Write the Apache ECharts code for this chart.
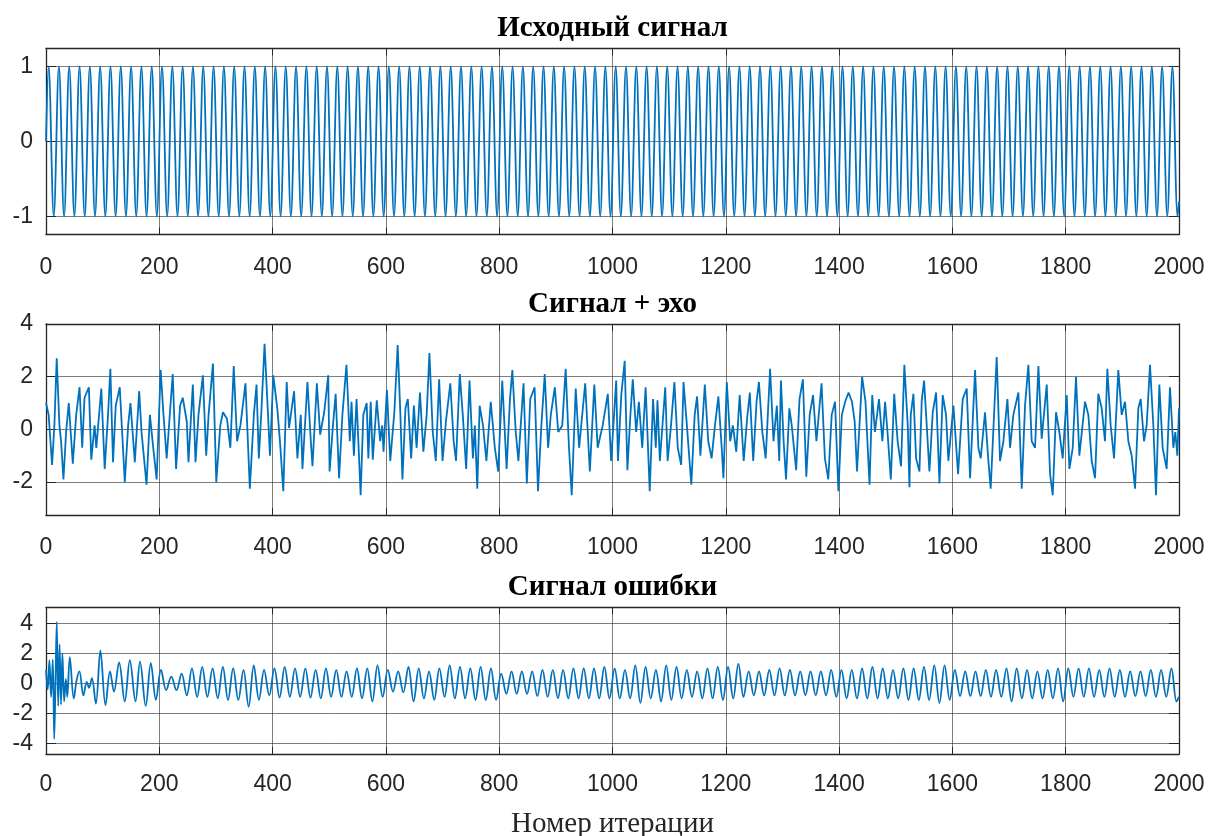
<!DOCTYPE html>
<html>
<head>
<meta charset="utf-8">
<script src="https://cdn.jsdelivr.net/npm/echarts@6/dist/echarts.min.js"></script>
<style>
html, body { margin: 0; padding: 0; background: #ffffff; }
#chart { width: 1213px; height: 836px; }
</style>
</head>
<body>
<div id="chart"></div>
<script>
// Panel titles and axis caption
const panelTitles = ['Исходный сигнал', 'Сигнал + эхо', 'Сигнал ошибки'];
const xAxisCaption = 'Номер итерации';

// Tick values
const xTickStep = 200;
const xRange = [0, 2000];
const sourceTicks = [-1, 0, 1];
const echoTicks = [-2, 0, 2, 4];
const errorTicks = [-4, -2, 0, 2, 4];

// Vertical limits of each panel
const sourceRange = [-1.24, 1.24];
const echoRange = [-3.25, 4];
const errorRange = [-4.7, 5.07];

// Source sinusoid: crests and troughs [iteration, value]
const sourceSignal = [
  [0,0],[4.6,1],[13.7,-1],[22.8,1],[31.9,-1],[41,1],[50.1,-1],[59.2,1],[68.3,-1],[77.4,1],[86.5,-1],
  [95.6,1],[104.7,-1],[113.8,1],[122.9,-1],[132,1],[141.1,-1],[150.2,1],[159.3,-1],[168.4,1],[177.5,-1],
  [186.6,1],[195.7,-1],[204.8,1],[213.9,-1],[223,1],[232.1,-1],[241.2,1],[250.3,-1],[259.4,1],[268.5,-1],
  [277.6,1],[286.7,-1],[295.8,1],[304.9,-1],[314,1],[323.1,-1],[332.2,1],[341.3,-1],[350.4,1],[359.5,-1],
  [368.6,1],[377.7,-1],[386.8,1],[395.9,-1],[405,1],[414.1,-1],[423.2,1],[432.3,-1],[441.4,1],[450.5,-1],
  [459.6,1],[468.7,-1],[477.8,1],[486.9,-1],[496,1],[505.1,-1],[514.2,1],[523.3,-1],[532.4,1],[541.5,-1],
  [550.6,1],[559.7,-1],[568.8,1],[577.9,-1],[587,1],[596.1,-1],[605.2,1],[614.3,-1],[623.4,1],[632.5,-1],
  [641.6,1],[650.7,-1],[659.8,1],[668.9,-1],[678,1],[687.1,-1],[696.2,1],[705.3,-1],[714.4,1],[723.5,-1],
  [732.6,1],[741.7,-1],[750.8,1],[759.9,-1],[769,1],[778.1,-1],[787.2,1],[796.3,-1],[805.4,1],[814.5,-1],
  [823.6,1],[832.7,-1],[841.8,1],[850.9,-1],[860,1],[869.1,-1],[878.2,1],[887.3,-1],[896.4,1],[905.5,-1],
  [914.6,1],[923.7,-1],[932.8,1],[941.9,-1],[951,1],[960.1,-1],[969.2,1],[978.3,-1],[987.4,1],[996.5,-1],
  [1005.6,1],[1014.7,-1],[1023.8,1],[1032.9,-1],[1042,1],[1051.1,-1],[1060.2,1],[1069.3,-1],[1078.4,1],[1087.5,-1],
  [1096.6,1],[1105.7,-1],[1114.8,1],[1123.9,-1],[1133,1],[1142.1,-1],[1151.2,1],[1160.3,-1],[1169.4,1],[1178.5,-1],
  [1187.6,1],[1196.7,-1],[1205.8,1],[1214.9,-1],[1224,1],[1233.1,-1],[1242.2,1],[1251.3,-1],[1260.4,1],[1269.5,-1],
  [1278.6,1],[1287.7,-1],[1296.8,1],[1305.9,-1],[1315,1],[1324.1,-1],[1333.2,1],[1342.3,-1],[1351.4,1],[1360.5,-1],
  [1369.6,1],[1378.7,-1],[1387.8,1],[1396.9,-1],[1406,1],[1415.1,-1],[1424.2,1],[1433.3,-1],[1442.4,1],[1451.5,-1],
  [1460.6,1],[1469.7,-1],[1478.8,1],[1487.9,-1],[1497,1],[1506.1,-1],[1515.2,1],[1524.3,-1],[1533.4,1],[1542.5,-1],
  [1551.6,1],[1560.7,-1],[1569.8,1],[1578.9,-1],[1588,1],[1597.1,-1],[1606.2,1],[1615.3,-1],[1624.4,1],[1633.5,-1],
  [1642.6,1],[1651.7,-1],[1660.8,1],[1669.9,-1],[1679,1],[1688.1,-1],[1697.2,1],[1706.3,-1],[1715.4,1],[1724.5,-1],
  [1733.6,1],[1742.7,-1],[1751.8,1],[1760.9,-1],[1770,1],[1779.1,-1],[1788.2,1],[1797.3,-1],[1806.4,1],[1815.5,-1],
  [1824.6,1],[1833.7,-1],[1842.8,1],[1851.9,-1],[1861,1],[1870.1,-1],[1879.2,1],[1888.3,-1],[1897.4,1],[1906.5,-1],
  [1915.6,1],[1924.7,-1],[1933.8,1],[1942.9,-1],[1952,1],[1961.1,-1],[1970.2,1],[1979.3,-1],[1988.4,1],[1997.5,-1],
  [2000,-0.8]
];

// Signal with echo [iteration, value]
const echoSignal = [
  [0,1.0],[4.7,0.55],[10.7,-1.35],[14.8,0.15],[18.9,2.7],[23.7,0.15],[26.6,-0.45],[30.8,-1.9],[35.5,-0.1],[40.2,1.0],
  [47.3,-1.3],[53.3,0.55],[59.2,1.6],[63.9,-0.7],[68,1.2],[75.7,1.6],[79.9,-1.15],[85.8,0.15],[88.8,-0.7],[97.6,1.55],
  [103.6,-1.5],[109.5,0.55],[113.6,2.3],[118.3,-1.25],[123.1,0.9],[130.2,1.6],[139.1,-2.0],[145,0.15],[149.1,1.0],[156.8,-1.25],
  [164.5,1.45],[168.6,-0.1],[177.5,-2.1],[183.4,0.55],[189.3,-0.7],[195.3,-1.9],[202.4,2.25],[207.1,0.65],[213,-1.1],[223.7,2.1],
  [229.6,-1.5],[236.7,0.9],[241.4,1.2],[248.5,0.3],[251.5,-1.25],[259.2,1.7],[263.9,-1.25],[269.2,0.55],[276.9,2.05],[282.8,-1.0],
  [287,0.55],[294.7,2.5],[300.6,-2.0],[307.7,0.15],[312.4,0.65],[319.5,0.4],[325.4,-0.7],[331.4,2.4],[337.3,-0.45],[343.2,0.15],
  [352.1,1.75],[359.8,-2.25],[366.9,0.55],[371.6,1.7],[375.7,-1.1],[379.9,0.55],[385.8,3.25],[391.7,0.65],[395.3,-1.0],[401.2,2.05],
  [408.3,0.8],[413,-0.45],[418.9,-2.35],[424.9,1.8],[429,0.05],[437.9,1.45],[443.8,-1.1],[449.7,0.55],[452.7,-1.5],[461.5,1.8],
  [467.5,-0.45],[470.4,-1.4],[478.1,1.75],[484,-0.2],[491.1,0.65],[498.2,2.05],
  [500.6,-1.6],[506.5,0.15],[511.3,1.35],[517.3,-1.85],[523.2,0.55],[530.4,2.45],[536.3,-0.45],[539.3,1.05],[543.5,-1.0],[548.2,1.15],
  [555.4,-2.5],[560.1,0.55],[566.1,1.0],[569,-1.1],[573.2,1.05],[576.8,-1.15],[583.9,1.1],[589.9,-0.45],[593.5,0.15],[595.8,-0.85],
  [601.8,1.5],[607.7,-1.2],[614.9,0.65],[620.8,3.2],[625.6,0.55],[629.2,-1.9],[634.5,0.8],[638.7,1.15],[644.6,-1.1],[649.4,0.9],
  [654.2,-0.7],[660.1,1.4],[666.1,-0.85],[672,0.55],[676.8,2.9],[682.7,-0.1],[688.1,-1.2],[694,1.9],[700,-1.2],[706,0.3],
  [713.7,1.75],[719.6,-0.45],[723.8,-1.2],[730.4,2.1],[735.7,0.55],[741.7,-1.5],[747.6,1.85],[753.6,-1.1],[757,0.15],[761.3,-2.25],
  [765.5,0.9],[771.4,0.15],[777.4,-1.2],[785.1,1.05],[792.3,-0.7],[798.2,-1.6],[805.4,1.85],[813.1,-1.5],[819,1.15],[823.2,2.25],
  [829.2,-0.1],[833.9,-1.2],[842.9,1.75],[848.8,-2.05],[854.8,1.15],[862.5,1.6],[868.5,-2.35],[874.4,0.15],[880.4,2.1],[886.3,-0.7],
  [891.1,0.55],[898.2,1.6],[904.2,-0.1],[911.3,0.15],[917.3,2.3],[923.2,-0.7],[928,-2.5],[935.1,1.55],[941.1,-0.7],[951.8,1.75],
  [960,-1.6],[967.9,1.7],[973.8,-0.7],[982.7,0.15],[991.7,1.35],[997.6,-1.2],[1006.5,1.85],
  [1009.6,-1.2],[1015.5,1.3],[1021.5,2.6],[1026.3,-1.55],[1031.6,0.55],[1035.8,1.9],[1041.8,-0.1],[1046.6,1.05],[1052.5,-0.7],[1058.5,1.6],
  [1065.7,-2.35],[1071.6,1.15],[1076.4,-0.7],[1079.4,1.1],[1083.6,-1.2],[1093.1,1.6],[1097.3,-1.2],[1103.3,0.15],[1109.3,1.8],[1115.2,-0.7],
  [1121.2,-1.35],[1125.4,1.8],[1131.3,0.15],[1139.1,-2.1],[1145.1,0.55],[1149.3,1.25],[1155.2,-1.0],[1163,1.7],[1169,-0.45],[1174.9,-1.1],
  [1180.9,0.15],[1186.9,1.25],[1192.8,-0.7],[1195.8,-1.85],[1201.8,1.8],[1207.8,-0.45],[1212.5,0.15],[1218.5,-0.85],[1224.5,1.3],[1231.6,-1.2],
  [1237.6,0.4],[1242.4,1.4],[1248.4,-1.2],[1254.3,1.05],[1258.5,1.8],[1264.5,-0.1],[1270.4,-1.1],[1278.2,2.3],[1284.2,-0.45],[1290.1,0.9],
  [1294.3,-1.2],[1297.3,1.85],[1302.1,-0.45],[1306.3,-1.9],[1312.2,0.8],[1316.4,0.15],[1324.2,-1.55],[1330.1,1.15],[1336.1,1.9],[1342.1,-1.8],
  [1348.1,0.55],[1354,1.3],[1360,-0.45],[1369,1.75],[1374.9,-1.1],[1380.9,-1.9],[1386.9,0.55],[1392.8,1.05],[1398.8,-2.35],[1404.8,0.55],
  [1410.7,1.05],[1416.7,1.4],[1422.7,1.05],[1427.5,0.3],[1431.6,-1.6],[1440.6,2.0],[1446.6,1.05],[1453.7,-2.1],[1458.5,1.3],[1463.3,-0.1],
  [1470.4,1.15],[1476.4,-0.45],[1481.2,1.05],[1485.4,-0.1],[1491.3,-1.9],[1497.3,1.35],[1503.3,-0.45],[1509.3,-1.4],[1515.2,2.45],[1521.2,0.15],
  [1524.2,-2.2],
  [1526.5,0.55],[1531.2,1.35],[1535.9,-1.1],[1541.8,-1.6],[1545.9,1.1],[1550,1.85],[1554.7,0.15],[1559.4,-1.6],[1565.3,0.65],[1571.2,1.4],
  [1577.1,-2.05],[1582.9,1.3],[1588.8,0.55],[1592.9,-1.2],[1601.8,0.9],[1610,-1.7],[1618.2,1.15],[1625.3,1.55],[1631.2,-1.85],[1640,2.25],
  [1645.9,-0.7],[1650,-1.1],[1657.6,0.65],[1663.5,-1.2],[1667.6,-2.25],[1673.5,0.55],[1678.2,2.75],[1684.1,-1.2],[1690,-0.45],[1697.1,1.15],
  [1701.8,-0.7],[1707.6,0.55],[1716.5,1.4],[1722.4,-2.25],[1728.2,0.9],[1734.1,2.45],[1740,-0.45],[1745.9,-0.7],[1751.8,2.4],[1757.6,-0.35],
  [1766.5,1.7],[1772.4,-1.7],[1777.1,-2.5],[1782.9,0.65],[1788.8,-0.1],[1794.7,-1.1],[1801.8,1.3],[1806.5,-1.5],[1812.4,-0.7],[1818.2,2.0],
  [1824.1,-1.0],[1834.1,1.05],[1840,0.55],[1845.9,-1.2],[1851.8,-1.85],[1857.6,1.35],[1863.5,0.8],[1869.4,-0.45],[1873.5,2.3],[1879.4,0.15],
  [1885.3,-1.1],[1892.9,2.25],[1898.8,0.55],[1904.7,1.05],[1910.6,-0.45],[1916.5,-1.0],[1922.4,-2.25],[1928.2,0.8],[1932.4,1.15],[1938.2,-0.45],
  [1942.9,0.15],[1948.8,2.45],[1954.7,0.15],[1959.4,-2.5],[1965.3,1.7],[1971.2,-0.7],[1978.2,-1.5],[1984.1,1.6],[1990,-0.7],[1993.5,-0.1],
  [1997.1,-1.0],[2000,0.8]
];

// Error signal: start-up transient, then crests and troughs [iteration, value]
const errorSignal = [
  [0,0.9],[3,-0.4],[6,1.55],[9,-0.9],[12,1.6],[14.5,-3.7],[17,0.6],[19,4.1],[21.5,-1.5],[24,2.6],
  [26.5,-1.4],[29,2.0],[32,-1.2],[35,0.3],[37.5,-0.9],[42,1.75],[49,-1.0],[54,0.2],[59,0.8],[66,-0.8],
  [72,0.1],[76,-0.3],[81,0.35],[88,-1.35],[96,2.2],[105,-1.45],[113,0.8],[120,-0.55],[129,1.4],[139,-1.2],
  [148,1.55],[158,-1.2],[166,1.45],[176,-1.5],[185,1.35],[194,-1.1],
  [203,0.9],[212.1,-0.45],[221.2,0.45],[230.3,-0.45],[239.4,0.65],[248.5,-0.8],[257.6,1.0],[266.7,-0.9],[275.8,1.1],[284.9,-0.9],
  [294,1.0],[303.1,-1.0],[312.2,1.1],[321.3,-1.1],[330.4,1.0],[339.5,-1.1],[348.6,0.9],[357.7,-1.55],[366.8,1.2],[375.9,-1.1],
  [385,0.9],[394.1,-0.8],[403.2,1.0],[412.3,-0.95],[421.4,1.1],[430.5,-0.9],[439.6,1.0],[448.7,-0.9],[457.8,1.0],[466.9,-0.95],
  [476,0.9],[485.1,-1.0],[494.2,1.0],[503.3,-0.9],[512.4,0.9],[521.5,-0.9],[530.6,0.8],[539.7,-0.9],[548.8,1.0],[557.9,-1.0],
  [567,1.0],[576.1,-1.2],[585.2,1.2],[594.3,-0.9],[603.4,0.9],[612.5,-0.55],[621.6,0.8],[630.7,-0.6],[639.8,1.1],[648.9,-1.2],
  [658,1.0],[667.1,-1.0],[676.2,0.8],[685.3,-1.1],[694.4,1.0],[703.5,-0.9],[712.6,1.2],[721.7,-1.0],[730.8,1.1],[739.9,-1.0],
  [749,1.0],[758.1,-1.1],[767.2,1.1],[776.3,-1.1],[785.4,1.0],[794.5,-1.1],[803.6,0.65],[812.7,-0.7],[821.8,0.8],[830.9,-0.7],
  [840,0.8],[849.1,-0.7],[858.2,0.8],[867.3,-0.85],[876.4,0.9],[885.5,-0.9],[894.6,0.9],[903.7,-1.0],[912.8,0.9],[921.9,-1.0],
  [931,1.0],[940.1,-1.0],[949.2,1.0],[958.3,-1.0],[967.4,1.0],[976.5,-1.0],[985.6,1.1],[994.7,-1.0],[1003.8,1.0],[1012.9,-1.0],
  [1022,0.9],[1031.1,-1.0],[1040.2,1.2],[1049.3,-1.3],[1058.4,1.1],[1067.5,-1.0],[1076.6,0.9],[1085.7,-1.2],[1094.8,1.2],[1103.9,-1.1],
  [1113,1.1],[1122.1,-1.0],[1131.2,0.9],[1140.3,-0.9],[1149.4,0.8],[1158.5,-1.0],[1167.6,1.0],[1176.7,-1.0],[1185.8,1.1],[1194.9,-1.1],
  [1204,1.1],[1213.1,-1.0],[1222.2,1.3],[1231.3,-0.9],[1240.4,0.8],[1249.5,-0.8],[1258.6,0.8],[1267.7,-0.8],[1276.8,0.9],[1285.9,-0.8],
  [1295,1.0],[1304.1,-0.8],[1313.2,0.9],[1322.3,-0.8],[1331.4,0.8],[1340.5,-0.8],[1349.6,0.8],[1358.7,-0.8],[1367.8,0.8],[1376.9,-0.8],
  [1386,0.9],[1395.1,-0.9],[1404.2,0.9],[1413.3,-1.0],[1422.4,0.9],[1431.5,-1.0],[1440.6,1.0],[1449.7,-1.0],[1458.8,1.1],[1467.9,-1.0],
  [1477,1.0],[1486.1,-1.0],[1495.2,0.9],[1504.3,-1.0],[1513.4,1.0],[1522.5,-1.1],[1531.6,1.0],[1540.7,-1.1],[1549.8,1.1],[1558.9,-1.1],
  [1568,1.2],[1577.1,-1.3],[1586.2,1.2],[1595.3,-1.1],[1604.4,0.9],[1613.5,-0.85],[1622.6,0.8],[1631.7,-0.85],[1640.8,0.8],[1649.9,-0.85],
  [1659,0.9],[1668.1,-0.9],[1677.2,0.9],[1686.3,-0.9],[1695.4,1.0],[1704.5,-1.2],[1713.6,1.0],[1722.7,-1.0],[1731.8,0.9],[1740.9,-1.0],
  [1750,0.8],[1759.1,-1.0],[1768.2,0.9],[1777.3,-1.0],[1786.4,1.0],[1795.5,-1.2],[1804.6,1.0],[1813.7,-0.9],[1822.8,1.0],[1831.9,-0.9],
  [1841,1.0],[1850.1,-0.9],[1859.2,0.9],[1868.3,-0.9],[1877.4,1.0],[1886.5,-0.9],[1895.6,0.9],[1904.7,-0.9],[1913.8,0.8],[1922.9,-0.85],
  [1932,0.8],[1941.1,-0.85],[1950.2,0.9],[1959.3,-0.9],[1968.4,0.9],[1977.5,-0.9],[1986.6,1.0],[1995.7,-1.2],[2000,-0.9]
];

// ---- styling ----
const LINE_COLOR = '#0072BD';
const BOX_COLOR = '#262626';
const GRID_COLOR = 'rgba(38,38,38,0.6)';
const TICK_FONT = "'Liberation Sans', Arial, Helvetica, sans-serif";
const TITLE_FONT = "'Liberation Serif', 'Times New Roman', serif";
const TICK_SIZE = 23;
const TITLE_SIZE = 29;

const panels = [
  { top: 48.5, height: 186, range: sourceRange, ticks: sourceTicks, data: sourceSignal, smooth: 0.36, title: panelTitles[0], titleY: 29, labelMargin: 22 },
  { top: 324, height: 191, range: echoRange, ticks: echoTicks, data: echoSignal, smooth: false, title: panelTitles[1], titleY: 305, labelMargin: 21 },
  { top: 607.3, height: 146.7, range: errorRange, ticks: errorTicks, data: errorSignal, smooth: 0.36, title: panelTitles[2], titleY: 588, labelMargin: 19 }
];
const gridLeft = 46;
const gridWidth = 1133;

const grids = [], xAxes = [], yAxes = [], series = [], titles = [];

panels.forEach((p, i) => {
  grids.push({ left: gridLeft, top: p.top, width: gridWidth, height: p.height, outerBoundsMode: 'none', containLabel: false });

  const xBase = {
    type: 'value', gridIndex: i, min: xRange[0], max: xRange[1], interval: xTickStep,
    axisLine: { show: true, onZero: false, lineStyle: { color: BOX_COLOR, width: 1.3 } },
    axisTick: { show: true, inside: true, length: 7, lineStyle: { color: BOX_COLOR, width: 1 } }
  };
  xAxes.push(Object.assign({}, xBase, {
    position: 'bottom',
    axisLabel: { show: true, margin: p.labelMargin, color: BOX_COLOR, fontFamily: TICK_FONT, fontSize: TICK_SIZE, formatter: v => String(v) },
    splitLine: { show: true, lineStyle: { color: GRID_COLOR, width: 1 } }
  }));
  xAxes.push(Object.assign({}, xBase, {
    position: 'top',
    axisLabel: { show: false },
    splitLine: { show: false }
  }));

  const yBase = {
    type: 'value', gridIndex: i, min: p.range[0], max: p.range[1],
    axisLine: { show: true, onZero: false, lineStyle: { color: BOX_COLOR, width: 1.3 } },
    axisTick: { show: true, inside: true, length: 10, customValues: p.ticks, lineStyle: { color: BOX_COLOR, width: 1 } }
  };
  yAxes.push(Object.assign({}, yBase, {
    position: 'left',
    axisLabel: { show: true, margin: 13, color: BOX_COLOR, fontFamily: TICK_FONT, fontSize: TICK_SIZE, customValues: p.ticks, formatter: v => String(v) },
    splitLine: { show: true, lineStyle: { color: GRID_COLOR, width: 1 } }
  }));
  yAxes.push(Object.assign({}, yBase, {
    position: 'right',
    axisLabel: { show: false },
    splitLine: { show: false }
  }));

  series.push({
    type: 'line', xAxisIndex: 2 * i, yAxisIndex: 2 * i, data: p.data,
    showSymbol: false, symbol: 'none', smooth: p.smooth, silent: true,
    lineStyle: { color: LINE_COLOR, width: 1.8 }
  });

  titles.push({
    text: p.title, left: gridLeft + gridWidth / 2, top: p.titleY, padding: 0,
    textAlign: 'center', textVerticalAlign: 'middle',
    textStyle: { fontFamily: TITLE_FONT, fontWeight: 'bold', fontSize: TITLE_SIZE, color: '#000000' }
  });
});

titles.push({
  text: xAxisCaption, left: gridLeft + gridWidth / 2, top: 824, padding: 0,
  textAlign: 'center', textVerticalAlign: 'middle',
  textStyle: { fontFamily: TITLE_FONT, fontWeight: 'normal', fontSize: 29, color: BOX_COLOR }
});

const chart = echarts.init(document.getElementById('chart'), null, { renderer: 'canvas' });
chart.setOption({
  animation: false,
  backgroundColor: '#ffffff',
  title: titles,
  grid: grids,
  xAxis: xAxes,
  yAxis: yAxes,
  series: series
});
</script>
</body>
</html>
